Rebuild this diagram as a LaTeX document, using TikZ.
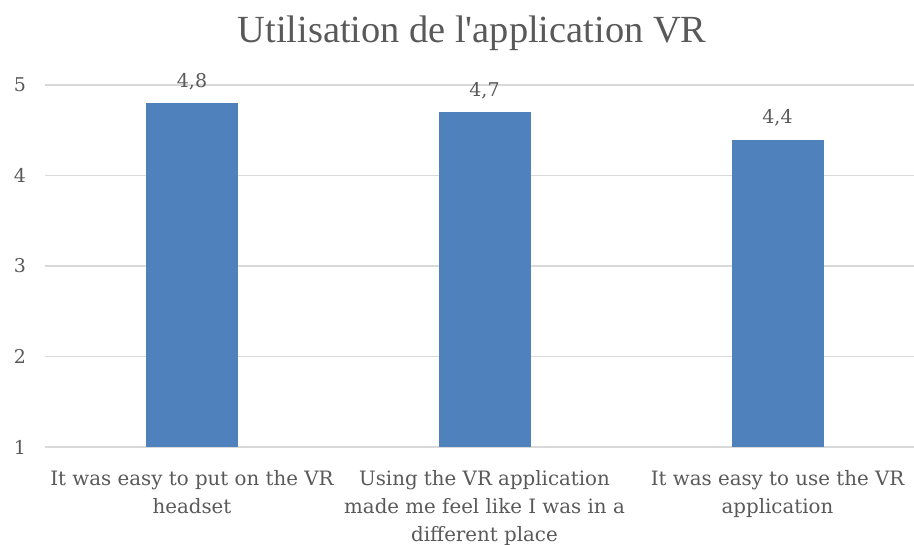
\documentclass[tikz,border=0pt]{standalone}
\usepackage{fontspec}
\setmainfont{DejaVu Serif}
\newfontfamily\titlefont{Liberation Serif}
\usepackage{tikz}
\usetikzlibrary{positioning}
\definecolor{barblue}{HTML}{4F81BD}
\definecolor{gridgray}{HTML}{D9D9D9}
\definecolor{labelgray}{HTML}{595959}
\tikzset{
  gridline/.style = {draw=gridgray, line width=0.7pt},
  bar/.style      = {fill=barblue},
  ticklabel/.style= {text=labelgray, inner sep=0pt, anchor=center,
                     font=\fontsize{9.5}{12}\selectfont},
  valuelabel/.style={text=labelgray, inner sep=0pt, anchor=base,
                     font=\fontsize{9.5}{12}\selectfont},
  catlabel/.style = {text=labelgray, inner sep=0pt, anchor=north, align=center,
                     font=\fontsize{9.9}{14}\selectfont},
  charttitle/.style={text=labelgray, inner sep=0pt, anchor=base,
                     font=\titlefont\fontsize{19.2}{22}\selectfont},
}

\begin{document}
\begin{tikzpicture}[x=0.5pt, y=-0.5pt]

  \useasboundingbox (0,0) rectangle (914,545);

  % title
  \node[charttitle] (title) at (472,43) {Utilisation de l\textquotesingle application VR};

  % grid and axis ticks
  \foreach \v in {1,...,5} {
    \draw[gridline] (45,{447-(\v-1)*90.5}) -- (914,{447-(\v-1)*90.5});
    \node[ticklabel] (tick\v) at (20,{447-(\v-1)*90.5}) {\v};
  }

  % bars
  \fill[bar] (146,447) rectangle (238,103.4);
  \fill[bar] (438.5,447) rectangle (530.5,112.4);
  \fill[bar] (731.5,447) rectangle (823.5,139.6);

  % values
  \node[valuelabel] (val1) at (192,87.4) {4,8};
  \node[valuelabel] (val2) at (484.5,96.4) {4,7};
  \node[valuelabel] (val3) at (777.5,123.6) {4,4};

  % categories
  \node[catlabel] (cat1) at (192,470) {It was easy to put on the VR\\headset};
  \node[catlabel] (cat2) at (484.5,470) {Using the VR application\\made me feel like I was in a\\different place};
  \node[catlabel] (cat3) at (777.5,470) {It was easy to use the VR\\application};

\end{tikzpicture}
\end{document}
